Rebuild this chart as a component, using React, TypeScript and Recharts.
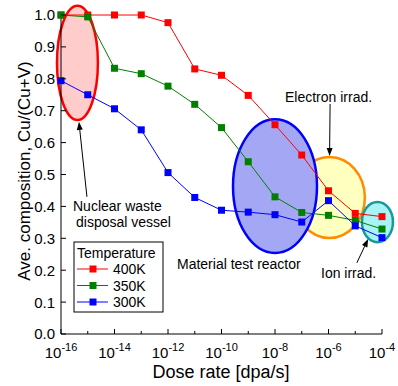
import {
  ComposedChart,
  Line,
  XAxis,
  YAxis,
  ReferenceArea,
  ReferenceLine,
  Customized,
} from "recharts";

const FONT = "'Liberation Sans', Arial, Helvetica, sans-serif";

// dose rate as the exponent of 10 (dpa/s)
const doseExponent = [-16, -15, -14, -13, -12, -11, -10, -9, -8, -7, -6, -5, -4];
const comp400K = [1.0, 1.0, 1.0, 1.0, 0.976, 0.831, 0.811, 0.748, 0.656, 0.561, 0.449, 0.378, 0.368];
const comp350K = [1.0, 0.994, 0.833, 0.816, 0.777, 0.72, 0.647, 0.54, 0.43, 0.381, 0.372, 0.356, 0.329];
const comp300K = [0.794, 0.75, 0.706, 0.64, 0.506, 0.428, 0.388, 0.382, 0.374, 0.351, 0.418, 0.339, 0.302];

const seriesNames = ["400K", "350K", "300K"];
const seriesKeys = ["t400", "t350", "t300"];
const seriesColors = ["#ff0000", "#008000", "#0000ff"];

const yTicks = [0, 0.1, 0.2, 0.3, 0.4, 0.5, 0.6, 0.7, 0.8, 0.9, 1.0];

const data = doseExponent.map((e, i) => ({
  e,
  t400: comp400K[i],
  t350: comp350K[i],
  t300: comp300K[i],
}));

// shaded regions (data coords, log10 dose rate / composition)
const regions = [
  { id: "nuclear", x1: -16.15, x2: -14.62, y1: 0.671, y2: 1.029, fill: "#ffcccc", stroke: "#ff0000" },
  { id: "electron", x1: -7.29, x2: -4.64, y1: 0.301, y2: 0.555, fill: "#ffffc0", stroke: "#ff8c00" },
  { id: "mtr", x1: -9.57, x2: -6.43, y1: 0.254, y2: 0.673, fill: "#a4a8f4", stroke: "#0000ff" },
  { id: "ion", x1: -4.75, x2: -3.59, y1: 0.288, y2: 0.414, fill: "#a8f4f4", stroke: "#1a9999" },
];

const arrows = [
  { id: "a1", from: { x: -15.03, y: 0.43 }, to: { x: -15.33, y: 0.665 } },
  { id: "a2", from: { x: -5.94, y: 0.721 }, to: { x: -5.96, y: 0.558 } },
  { id: "a3", from: { x: -4.94, y: 0.223 }, to: { x: -4.52, y: 0.298 } },
];

const Ellipse = (fill: string, stroke: string) => (p: any) => (
  <ellipse
    cx={p.x + p.width / 2}
    cy={p.y + p.height / 2}
    rx={p.width / 2}
    ry={p.height / 2}
    fill={fill}
    stroke={stroke}
    strokeWidth={2.5}
  />
);

const Arrow = (p: any) => {
  const { x1, y1, x2, y2 } = p;
  const ang = Math.atan2(y2 - y1, x2 - x1);
  const len = 8;
  const w = 3;
  const bx = x2 - len * Math.cos(ang);
  const by = y2 - len * Math.sin(ang);
  const nx = -Math.sin(ang) * w;
  const ny = Math.cos(ang) * w;
  return (
    <g>
      <line x1={x1} y1={y1} x2={bx} y2={by} stroke="#000" strokeWidth={1} />
      <polygon points={`${x2},${y2} ${bx + nx},${by + ny} ${bx - nx},${by - ny}`} fill="#000" />
    </g>
  );
};

const BottomTick = ({ x, y, payload }: any) => {
  const e = payload.value;
  const major = e % 2 === 0;
  return (
    <g>
      <line x1={x} x2={x} y1={y} y2={y - (major ? 5 : 3)} stroke="#000" />
      {major && (
        <text x={x} y={y + 24} textAnchor="middle" fontSize={15} fill="#000" fontFamily={FONT}>
          10
          <tspan dy={-7} fontSize={11}>
            {String(e)}
          </tspan>
        </text>
      )}
    </g>
  );
};

const TopTick = ({ x, y, payload }: any) => {
  const major = payload.value % 2 === 0;
  return <line x1={x} x2={x} y1={y} y2={y + (major ? 5 : 3)} stroke="#000" />;
};

const LeftTick = ({ x, y, payload }: any) => (
  <g>
    <line x1={x} x2={x + 5} y1={y} y2={y} stroke="#000" />
    <text x={x - 6} y={y} dy="0.36em" textAnchor="end" fontSize={15} fill="#000" fontFamily={FONT}>
      {payload.value.toFixed(1)}
    </text>
  </g>
);

const RightTick = ({ x, y }: any) => <line x1={x} x2={x - 5} y1={y} y2={y} stroke="#000" />;

const Annotations = () => (
  <g fontFamily={FONT} fill="#000">
    <text x={24} y={171} fontSize={17} textAnchor="middle" dy="0.36em" transform="rotate(-90 24 171)">
      Ave. composition, Cu/(Cu+V)
    </text>
    <text x={221} y={372} fontSize={18} textAnchor="middle" dy="0.36em">
      Dose rate [dpa/s]
    </text>
    <text x={73} y={205.5} fontSize={14} dy="0.36em">Nuclear waste</text>
    <text x={76} y={221.5} fontSize={14} dy="0.36em">disposal vessel</text>
    <text x={285} y={96.5} fontSize={14} dy="0.36em">Electron irrad.</text>
    <text x={177} y={264} fontSize={14} dy="0.36em">Material test reactor</text>
    <text x={321} y={273} fontSize={14} dy="0.36em">Ion irrad.</text>
    {/* legend */}
    <rect x={74} y={242} width={89} height={70} fill="#fff" stroke="#000" strokeWidth={1} />
    <text x={77} y={252.5} fontSize={14} dy="0.36em">Temperature</text>
    {seriesNames.map((n, i) => {
      const cy = 269 + i * 16.5;
      return (
        <g key={n}>
          <line x1={77} x2={108} y1={cy} y2={cy} stroke={seriesColors[i]} strokeWidth={1} />
          <rect x={89.5} y={cy - 3.5} width={7} height={7} fill={seriesColors[i]} />
          <text x={113} y={cy} fontSize={14} dy="0.36em">{n}</text>
        </g>
      );
    })}
  </g>
);

export default function App() {
  return (
    <div style={{ position: "absolute", left: 0, top: 0, width: 398, height: 386, background: "#fff", fontFamily: FONT }}>
      <ComposedChart
        width={398}
        height={386}
        data={data}
        margin={{ top: 15, right: 16, bottom: 0, left: 0 }}
      >
        <XAxis
          dataKey="e"
          type="number"
          domain={[-16, -4]}
          ticks={doseExponent}
          interval={0}
          height={52}
          tickSize={0}
          tickMargin={0}
          tickLine={false}
          tick={BottomTick}
          stroke="#000"
        />
        <XAxis
          xAxisId="top"
          orientation="top"
          type="number"
          domain={[-16, -4]}
          ticks={doseExponent}
          interval={0}
          height={0}
          tickSize={0}
          tickMargin={0}
          tickLine={false}
          tick={TopTick}
          stroke="#000"
          allowDataOverflow
        />
        <YAxis
          type="number"
          domain={[0, 1]}
          ticks={yTicks}
          interval={0}
          width={61}
          tickSize={0}
          tickMargin={0}
          tickLine={false}
          tick={LeftTick}
          stroke="#000"
        />
        <YAxis
          yAxisId="right"
          orientation="right"
          type="number"
          domain={[0, 1]}
          ticks={yTicks}
          interval={0}
          width={0}
          tickSize={0}
          tickMargin={0}
          tickLine={false}
          tick={RightTick}
          stroke="#000"
          allowDataOverflow
        />
        {regions.map((r) => (
          <ReferenceArea
            key={r.id}
            x1={r.x1}
            x2={r.x2}
            y1={r.y1}
            y2={r.y2}
            ifOverflow="visible"
            shape={Ellipse(r.fill, r.stroke)}
          />
        ))}
        {arrows.map((a) => (
          <ReferenceLine key={a.id} segment={[a.from, a.to]} ifOverflow="visible" shape={Arrow} />
        ))}
        {seriesKeys.map((k, i) => (
          <Line
            key={k}
            dataKey={k}
            type="linear"
            stroke={seriesColors[i]}
            strokeWidth={1}
            isAnimationActive={false}
            activeDot={false}
            dot={(p: any) => (
              <rect key={`${k}-${p.index}`} x={p.cx - 3.5} y={p.cy - 3.5} width={7} height={7} fill={seriesColors[i]} />
            )}
          />
        ))}
        <Customized component={<Annotations />} />
      </ComposedChart>
    </div>
  );
}
